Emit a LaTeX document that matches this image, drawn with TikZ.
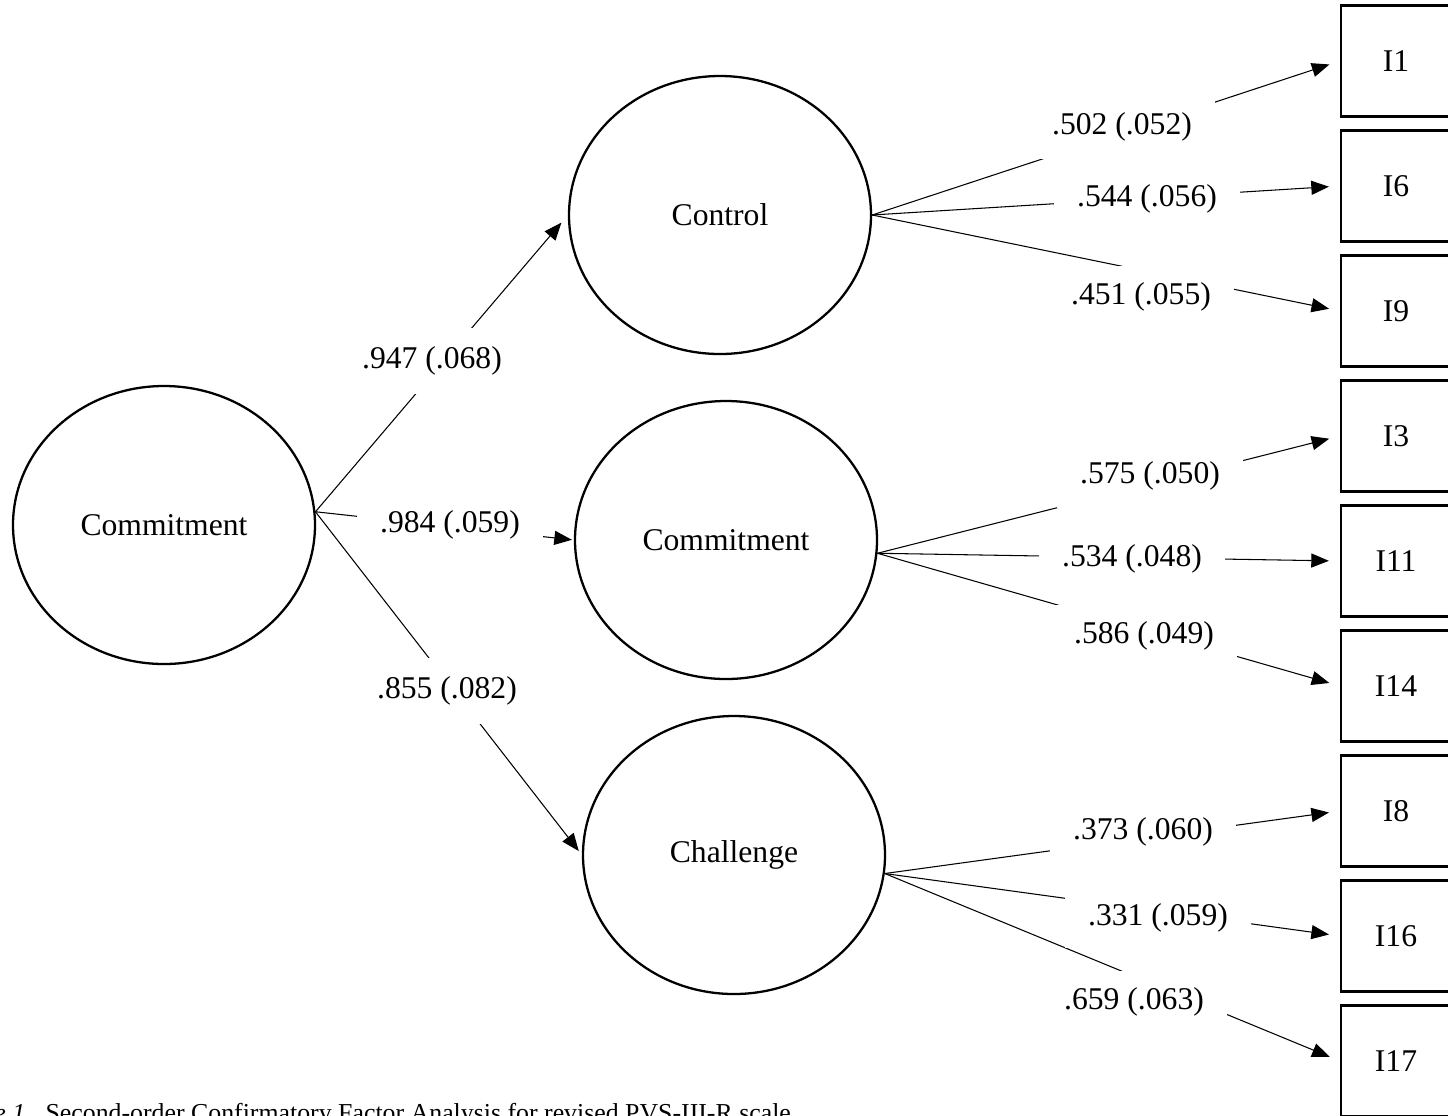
\documentclass[tikz,border=0pt]{standalone}
\usepackage{fontspec}
\setmainfont{Liberation Serif}
\usetikzlibrary{shapes,positioning,arrows.meta}
\newcommand{\diagfont}{\fontsize{18}{22}\selectfont}

\begin{document}
\begin{tikzpicture}[
    latent/.style={draw,ellipse,line width=1.3pt,minimum width=6.04cm,minimum height=5.56cm,inner sep=0pt,font=\diagfont},
    itembox/.style={draw,rectangle,line width=1.3pt,minimum width=2.2cm,minimum height=2.22cm,inner sep=0pt,font=\diagfont},
    coef/.style={fill=white,minimum width=3.72cm,minimum height=1.26cm,inner sep=0pt,font=\diagfont},
    load/.style={-{Triangle[length=10pt,width=8pt]},line width=0.6pt,shorten >=0.22cm},
    node distance=2.5cm
    ]
    \useasboundingbox (0,0) rectangle (28.96,-22.3);

    \node (cmt2) [latent] at (3.28,-10.5) {Commitment};
    \node (ctrl) [latent] at (14.4,-4.3) {Control};
    \node (cmt1) [latent] at (14.52,-10.8) {Commitment};
    \node (chal) [latent] at (14.68,-17.1) {Challenge};

    \node (i1) [itembox] at (27.92,-1.22) {I1};
    \node (i6) [itembox,below of=i1] {I6};
    \node (i9) [itembox,below of=i6] {I9};
    \node (i3) [itembox,below of=i9] {I3};
    \node (i11) [itembox,below of=i3] {I11};
    \node (i14) [itembox,below of=i11] {I14};
    \node (i8) [itembox,below of=i14] {I8};
    \node (i16) [itembox,below of=i8] {I16};
    \node (i17) [itembox,below of=i16] {I17};

    % the edges
    \draw[load,shorten >=0.2cm] (cmt2.5) -- (ctrl.west);
    \draw[load,shorten >=0.04cm] (cmt2.5) -- (cmt1.west);
    \draw[load,shorten >=0.1cm] (cmt2.5) -- (chal.west);
    \draw[load] (ctrl.east) -- (i1.west);
    \draw[load] (ctrl.east) -- (i6.west);
    \draw[load] (ctrl.east) -- (i9.west);
    \draw[load] (cmt1.-5) -- (i3.west);
    \draw[load] (cmt1.-5) -- (i11.west);
    \draw[load] (cmt1.-5) -- (i14.west);
    \draw[load] (chal.-7) -- (i8.west);
    \draw[load] (chal.-7) -- (i16.west);
    \draw[load] (chal.-7) -- (i17.west);

    % the loadings
    \node (c947) [coef,minimum height=1.32cm] at (8.64,-7.22) {.947 (.068)};
    \node (c984) [coef] at (9.0,-10.5) {.984 (.059)};
    \node (c855) [coef,minimum height=1.32cm] at (8.94,-13.82) {.855 (.082)};
    \node (c502) [coef] at (22.44,-2.54) {.502 (.052)};
    \node (c544) [coef] at (22.94,-3.98) {.544 (.056)};
    \node (c451) [coef] at (22.82,-5.94) {.451 (.055)};
    \node (c575) [coef] at (23.0,-9.52) {.575 (.050)};
    \node (c534) [coef] at (22.64,-11.18) {.534 (.048)};
    \node (c586) [coef] at (22.88,-12.72) {.586 (.049)};
    \node (c373) [coef] at (22.86,-16.64) {.373 (.060)};
    \node (c331) [coef,minimum height=1.2cm] at (23.16,-18.36) {.331 (.059)};
    \node (c659) [coef] at (22.68,-20.04) {.659 (.063)};

    \node (cap) [anchor=base west,inner sep=0pt,font=\fontsize{14.7}{17}\selectfont] at (-0.12,-22.42) {\textit{e 1.}\hspace{3pt} Second-order Confirmatory Factor Analysis for revised PVS-III-R scale};
\end{tikzpicture}
\end{document}
